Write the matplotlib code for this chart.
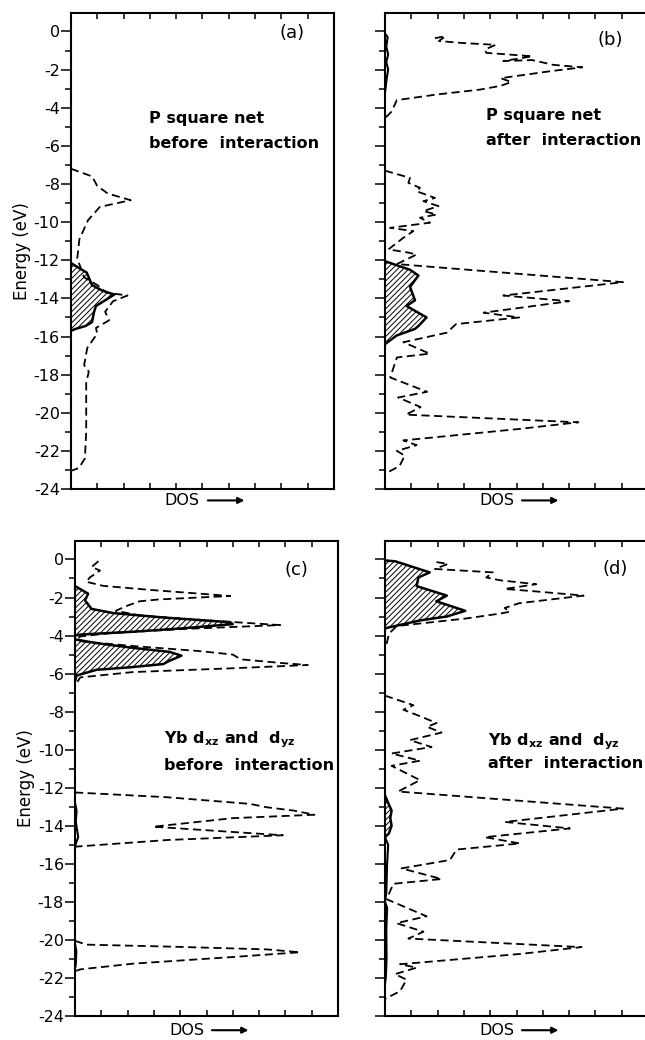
import matplotlib.pyplot as plt
from matplotlib.ticker import MultipleLocator

plt.rcParams['hatch.linewidth'] = 0.7
plt.rcParams['axes.unicode_minus'] = False

# ---- panel (a): P square net before interaction ----
a_dash_x = [0, 0.8, 1.0, 1.4, 2.27, 1.1, 0.65, 0.32, 0.24, 0.5, 1.0, 1.35, 2.15, 1.6, 1.3, 1.45,
            0.95, 1.0, 0.62, 0.5, 0.68, 0.58, 0.58, 0.53, 0.3, 0]
a_dash_e = [-7.2, -7.6, -8.1, -8.5, -8.85, -9.2, -9.9, -10.9, -11.9, -12.9, -13.3, -13.7, -13.85, -14.15,
            -14.7, -15.15, -15.55, -15.85, -16.6, -17.5, -17.85, -18.4, -21.0, -22.4, -22.9, -23.05]
a_fill_x = [0, 0.6, 0.8, 1.2, 1.65, 1.3, 0.95, 0.87, 0.8, 0.55, 0.18, 0]
a_fill_e = [-12.15, -12.65, -13.3, -13.6, -13.8, -14.1, -14.4, -14.75, -15.25, -15.45, -15.6, -15.7]

# ---- panel (b): P square net after interaction ----
b_dash1_x = [1.9, 2.3, 2.05, 2.9, 4.2, 3.8, 3.85, 5.6, 4.5, 5.6, 6.4, 7.5, 6.3, 4.4, 4.8, 4.4, 3.6,
             2.0, 0.45, 0.25, 0]
b_dash1_e = [-0.35, -0.25, -0.5, -0.6, -0.7, -0.95, -1.12, -1.3, -1.55, -1.5, -1.75, -1.88, -2.08,
             -2.45, -2.65, -2.85, -3.05, -3.3, -3.6, -4.2, -4.55]
b_dash2_x = [0, 0.95, 0.89, 1.33, 1.2, 1.9, 1.46, 2.03, 1.46, 1.96, 1.33, 1.71, 0.19, 1.08, 0.7, 0.13,
             0.89, 1.2, 0.45, 9.05, 4.5, 7.0, 3.75, 5.1, 2.7, 2.35, 0.7, 1.7, 0.45, 0.2, 1.6, 0.5,
             1.35, 0.8, 7.35, 5.1, 0.7, 1.2, 0.45, 0.75, 0.55, 0]
b_dash2_e = [-7.3, -7.68, -7.94, -8.2, -8.38, -8.73, -8.9, -9.16, -9.42, -9.6, -9.77, -10.03, -10.3,
             -10.47, -10.82, -11.43, -11.6, -11.7, -12.2, -13.15, -13.85, -14.15, -14.75, -15.0,
             -15.35, -15.8, -16.3, -16.9, -17.1, -18.15, -18.9, -19.2, -19.7, -20.1, -20.5, -20.85,
             -21.45, -21.7, -22.0, -22.25, -22.8, -23.2]
b_fill_x = [0, 0.95, 1.27, 0.95, 1.14, 0.82, 1.58, 1.27, 1.14, 0.44, 0]
b_fill_e = [-12.05, -12.5, -12.8, -13.4, -14.1, -14.4, -15.0, -15.45, -15.6, -15.95, -16.4]
b_thin_x = [0, 0.1, 0.05, 0.12, 0.05, 0.12, 0.06, 0.02, 0]
b_thin_e = [-0.1, -0.3, -0.8, -1.2, -1.6, -2.0, -2.5, -3.0, -3.2]

# ---- panel (c): Yb dxz, dyz before interaction ----
c_dash1_x = [0.89, 0.63, 0.95, 0.57, 0.42, 1.08, 2.85, 5.9, 3.2, 2.45, 1.95, 1.55, 2.5, 5.0, 7.8,
             4.2, 1.3, 0.2, 0.1, 0.2, 2.2, 4.75, 6.0, 6.3, 7.9, 8.85, 6.0, 2.2, 0.2, 0.06, 0]
c_dash1_e = [-0.09, -0.4, -0.58, -0.94, -1.17, -1.39, -1.6, -1.92, -2.1, -2.2, -2.45, -2.7, -2.95,
             -3.2, -3.45, -3.65, -3.88, -4.05, -4.15, -4.3, -4.55, -4.82, -5.0, -5.25, -5.45, -5.55,
             -5.72, -5.92, -6.2, -6.5, -6.7]
c_dash2_x = [0, 3.5, 6.65, 7.3, 8.3, 9.1, 6.0, 2.97, 7.9, 3.5, 0]
c_dash2_e = [-12.25, -12.5, -12.85, -13.03, -13.2, -13.42, -13.6, -14.05, -14.5, -14.75, -15.1]
c_dash3_x = [0, 0.44, 3.5, 7.3, 8.55, 6.0, 2.2, 0.2, 0]
c_dash3_e = [-20.05, -20.25, -20.35, -20.5, -20.65, -20.9, -21.25, -21.55, -21.65]
c_fill1_x = [0, 0.5, 0.38, 0.63, 1.46, 3.35, 5.9, 6.0, 4.1, 2.2, 0.2, 0]
c_fill1_e = [-1.4, -1.8, -2.15, -2.6, -2.82, -3.05, -3.3, -3.4, -3.62, -3.8, -3.95, -4.0]
c_fill2_x = [0, 0.82, 2.1, 3.6, 4.05, 3.6, 3.35, 2.1, 0.82, 0.06, 0]
c_fill2_e = [-4.2, -4.4, -4.63, -4.86, -5.06, -5.32, -5.5, -5.67, -5.8, -6.1, -6.4]
c_thin1_x = [0, 0.06, 0.03, 0.1, 0.12, 0.04, 0]
c_thin1_e = [-12.8, -13.2, -13.8, -14.4, -14.6, -14.9, -15.1]
c_thin2_x = [0, 0.05, 0.03, 0]
c_thin2_e = [-20.2, -20.6, -21.3, -21.5]

# ---- panel (d): Yb dxz, dyz after interaction ----
d_dash1_x = [1.96, 2.4, 1.9, 4.1, 3.85, 4.4, 5.75, 4.55, 5.65, 7.55, 5.1, 4.55, 4.75, 4.35, 3.1,
             0.45, 0.15, 0.06, 0]
d_dash1_e = [-0.14, -0.23, -0.5, -0.68, -0.95, -1.1, -1.3, -1.55, -1.67, -1.9, -2.3, -2.55, -2.75,
             -2.85, -3.1, -3.5, -3.9, -4.45, -4.55]
d_dash2_x = [0, 1.08, 0.7, 1.33, 1.96, 1.6, 2.15, 0.95, 1.77, 0.25, 1.33, 0.25, 1.33, 0.5, 9.05,
             4.56, 7.03, 3.8, 5.13, 2.72, 2.47, 0.63, 2.15, 0.32, 0.06, 1.58, 0.44, 1.46, 0.89,
             7.47, 5.13, 0.57, 1.2, 0.38, 0.82, 0.57, 0]
d_dash2_e = [-7.16, -7.66, -7.9, -8.24, -8.6, -8.8, -9.1, -9.5, -9.86, -10.2, -10.58, -10.85, -11.6,
             -12.2, -13.1, -13.8, -14.14, -14.6, -14.93, -15.25, -15.8, -16.24, -16.8, -17.05,
             -17.86, -18.76, -19.12, -19.57, -19.93, -20.38, -20.74, -21.28, -21.46, -21.8, -22.09,
             -22.7, -23.1]
d_fill1_x = [0, 0.4, 1.7, 1.27, 1.2, 2.35, 1.95, 3.05, 2.35, 1.35, 0.06, 0]
d_fill1_e = [-0.05, -0.1, -0.68, -0.95, -1.4, -1.9, -2.2, -2.7, -3.0, -3.2, -3.6, -3.65]
d_fill2_x = [0, 0.12, 0.25, 0.2, 0.25, 0.15, 0]
d_fill2_e = [-12.4, -12.8, -13.2, -13.6, -14.0, -14.4, -14.6]
d_thin_x = [0, 0.12, 0.1, 0.08, 0.05, 0.0, 0.08, 0.05, 0.06, 0.03, 0]
d_thin_e = [-14.6, -15.0, -15.5, -16.0, -17.5, -18.0, -18.3, -19.5, -21.0, -22.0, -22.3]

y_ticks = list(range(0, -25, -2))
x_ticks = list(range(0, 10))

fig = plt.figure(figsize=(6.45, 10.4), dpi=100)
rects = {
    'a': [0.110, 0.5298, 0.4078, 0.4577],
    'b': [0.5969, 0.5298, 0.4078, 0.4577],
    'c': [0.1163, 0.0231, 0.4078, 0.4567],
    'd': [0.5969, 0.0231, 0.4078, 0.4567],
}
DASH = (0, (4.5, 2.5))


def setup(ax, labels):
    ax.set_xlim(0, 10)
    ax.set_ylim(-24, 0.97)
    ax.set_yticks(y_ticks)
    ax.yaxis.set_minor_locator(MultipleLocator(1))
    ax.set_xticks(x_ticks)
    ax.set_xticklabels([])
    ax.tick_params(axis='y', which='major', direction='out', length=7, width=1.1,
                   labelsize=11.5, pad=1)
    ax.tick_params(axis='y', which='minor', direction='out', length=4, width=1.1)
    ax.tick_params(axis='x', which='both', direction='in', top=True, bottom=True,
                   length=4, width=1.1)
    for s in ax.spines.values():
        s.set_linewidth(1.5)
    if labels:
        ax.set_yticklabels([str(t) for t in y_ticks])
        ax.set_ylabel('Energy (eV)', fontsize=12, labelpad=2)
    else:
        ax.set_yticklabels([])


def dos_label(ax, y):
    ax.text(0.49, y, 'DOS', transform=ax.transAxes, ha='right', va='center', fontsize=11.5)
    ax.annotate('', xy=(0.67, y), xytext=(0.51, y), xycoords='axes fraction',
                arrowprops=dict(arrowstyle='-|>', lw=1.5, color='black', mutation_scale=9))


def shade(ax, x, e):
    ax.fill_betweenx(e, 0, x, facecolor='white', edgecolor='black', hatch='//////', linewidth=0)
    ax.plot(x, e, color='black', lw=1.8)


def dashed(ax, x, e):
    ax.plot(x, e, color='black', lw=1.3, linestyle=DASH)


txt = dict(fontsize=11.5, fontweight='bold', ha='left', va='center')

# (a)
ax = fig.add_axes(rects['a'])
setup(ax, True)
shade(ax, a_fill_x, a_fill_e)
dashed(ax, a_dash_x, a_dash_e)
ax.text(8.4, -0.1, '(a)', fontsize=13, ha='center', va='center')
ax.text(2.95, -4.55, 'P square net', **txt)
ax.text(2.95, -5.85, 'before  interaction', **txt)
dos_label(ax, -0.024)

# (b)
ax = fig.add_axes(rects['b'])
setup(ax, False)
shade(ax, b_fill_x, b_fill_e)
ax.plot(b_thin_x, b_thin_e, color='black', lw=1.5)
dashed(ax, b_dash1_x, b_dash1_e)
dashed(ax, b_dash2_x, b_dash2_e)
ax.text(8.55, -0.45, '(b)', fontsize=13, ha='center', va='center')
ax.text(3.85, -4.4, 'P square net', **txt)
ax.text(3.85, -5.7, 'after  interaction', **txt)
dos_label(ax, -0.024)

# (c)
ax = fig.add_axes(rects['c'])
setup(ax, True)
shade(ax, c_fill1_x, c_fill1_e)
shade(ax, c_fill2_x, c_fill2_e)
ax.plot(c_thin1_x, c_thin1_e, color='black', lw=1.5)
ax.plot(c_thin2_x, c_thin2_e, color='black', lw=1.5)
dashed(ax, c_dash1_x, c_dash1_e)
dashed(ax, c_dash2_x, c_dash2_e)
dashed(ax, c_dash3_x, c_dash3_e)
ax.text(8.4, -0.55, '(c)', fontsize=13, ha='center', va='center')
ax.text(3.4, -9.5, r'Yb d$_{\mathbf{xz}}$ and  d$_{\mathbf{yz}}$', **txt)
ax.text(3.4, -10.85, 'before  interaction', **txt)
dos_label(ax, -0.03)

# (d)
ax = fig.add_axes(rects['d'])
setup(ax, False)
shade(ax, d_fill1_x, d_fill1_e)
shade(ax, d_fill2_x, d_fill2_e)
ax.plot(d_thin_x, d_thin_e, color='black', lw=1.5)
dashed(ax, d_dash1_x, d_dash1_e)
dashed(ax, d_dash2_x, d_dash2_e)
ax.text(8.75, -0.5, '(d)', fontsize=13, ha='center', va='center')
ax.text(3.9, -9.6, r'Yb d$_{\mathbf{xz}}$ and  d$_{\mathbf{yz}}$', **txt)
ax.text(3.9, -10.75, 'after  interaction', **txt)
dos_label(ax, -0.03)

fig.savefig('out.png', dpi=100)
